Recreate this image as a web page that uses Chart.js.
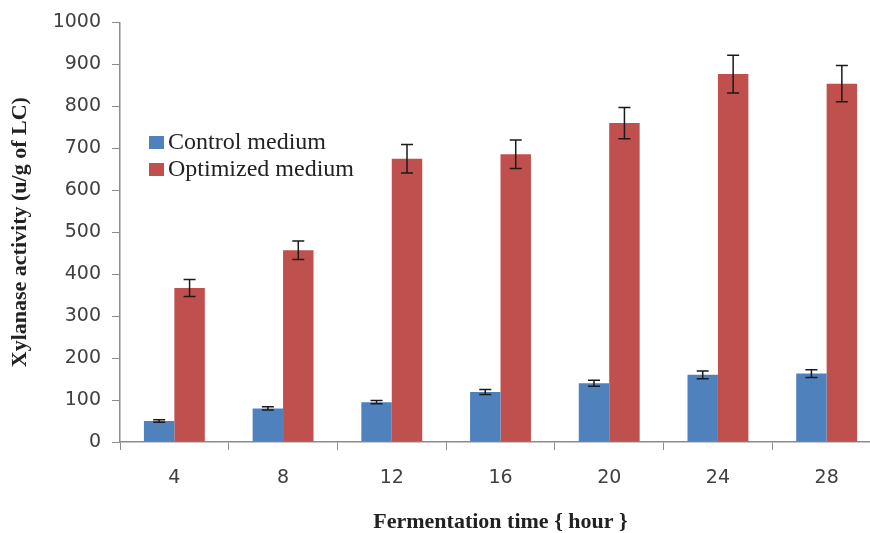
<!DOCTYPE html>
<html>
<head>
<meta charset="utf-8">
<script src="https://cdn.jsdelivr.net/npm/chart.js@4.4.1/dist/chart.umd.min.js"></script>
<style>
  html, body { margin: 0; padding: 0; background: #fff; overflow: hidden; }
  #wrap { width: 870px; height: 533px; overflow: hidden; }
</style>
</head>
<body>
<div id="wrap"><canvas id="chart" width="885" height="533"></canvas></div>
<script>
// fermentation time (hours)
const hours = ['4', '8', '12', '16', '20', '24', '28'];

// xylanase activity, u/g of LC
const controlValues = [50, 80, 95, 119, 140, 160, 163];
const controlErrors = [3, 4, 4, 6, 7, 9, 9];
const optimizedValues = [367, 457, 675, 686, 760, 877, 854];
const optimizedErrors = [20, 22, 34, 34, 37, 45, 43];

const yTicks = [0, 100, 200, 300, 400, 500, 600, 700, 800, 900, 1000];

const errors = [controlErrors, optimizedErrors];

// draws the +/- error whiskers on top of each bar
const errorBars = {
  id: 'errorBars',
  afterDatasetsDraw(chart) {
    const ctx = chart.ctx;
    const y = chart.scales.y;
    ctx.save();
    ctx.strokeStyle = '#1a1a1a';
    ctx.lineWidth = 1.5;
    chart.data.datasets.forEach(function(ds, i) {
      const meta = chart.getDatasetMeta(i);
      meta.data.forEach(function(bar, j) {
        const v = ds.data[j];
        const e = errors[i][j];
        const top = y.getPixelForValue(v + e);
        const bot = y.getPixelForValue(v - e);
        const half = 6;
        ctx.beginPath();
        ctx.moveTo(bar.x, top);
        ctx.lineTo(bar.x, bot);
        ctx.moveTo(bar.x - half, top);
        ctx.lineTo(bar.x + half, top);
        ctx.moveTo(bar.x - half, bot);
        ctx.lineTo(bar.x + half, bot);
        ctx.stroke();
      });
    });
    ctx.restore();
  }
};

// legend sitting inside the plot, upper left
const insideLegend = {
  id: 'insideLegend',
  afterDraw(chart) {
    const ctx = chart.ctx;
    ctx.save();
    ctx.font = '24px "Liberation Serif", serif';
    ctx.textBaseline = 'middle';
    chart.data.datasets.forEach(function(ds, i) {
      const cy = 143 + i * 27;
      ctx.fillStyle = ds.backgroundColor;
      ctx.fillRect(149, cy - 7, 15, 13);
      ctx.fillStyle = '#222';
      ctx.fillText(ds.label, 168, cy);
    });
    ctx.restore();
  }
};

const ctx = document.getElementById('chart').getContext('2d');
new Chart(ctx, {
  type: 'bar',
  data: {
    labels: hours,
    datasets: [
      { label: 'Control medium', data: controlValues, backgroundColor: '#4F81BD' },
      { label: 'Optimized medium', data: optimizedValues, backgroundColor: '#C0504D' }
    ]
  },
  options: {
    responsive: false,
    animation: false,
    layout: { padding: { top: 22, right: 4, bottom: 0, left: 0 } },
    datasets: { bar: { categoryPercentage: 0.56, barPercentage: 1.0 } },
    plugins: {
      legend: { display: false },
      tooltip: { enabled: false }
    },
    scales: {
      x: {
        grid: { display: true, drawOnChartArea: false, offset: true, color: '#8c8c8c', tickLength: 8 },
        border: { color: '#8c8c8c', width: 1.5 },
        ticks: { color: '#404040', font: { family: 'DejaVu Sans', size: 19 }, padding: 17 },
        title: {
          display: true,
          text: 'Fermentation time { hour }',
          color: '#222',
          font: { family: 'Liberation Serif', size: 22, weight: 'bold', lineHeight: 1.0 },
          padding: { top: 0, bottom: 0 }
        },
        afterFit(scale) { scale.height = 91; }
      },
      y: {
        min: 0,
        max: 1000,
        afterBuildTicks(scale) { scale.ticks = yTicks.map(function(v) { return { value: v }; }); },
        grid: { display: true, drawOnChartArea: false, color: '#8c8c8c', tickLength: 8 },
        border: { color: '#8c8c8c', width: 1.5 },
        ticks: {
          color: '#404040',
          font: { family: 'DejaVu Sans', size: 19 },
          padding: 11,
          callback: function(v) { return String(v); }
        },
        title: {
          display: true,
          text: 'Xylanase activity (u/g of LC)',
          color: '#222',
          font: { family: 'Liberation Serif', size: 22, weight: 'bold', lineHeight: 1.0 },
          padding: { top: 9, bottom: 0 }
        },
        afterFit(scale) { scale.width = 120; }
      }
    }
  },
  plugins: [errorBars, insideLegend]
});
</script>
</body>
</html>
